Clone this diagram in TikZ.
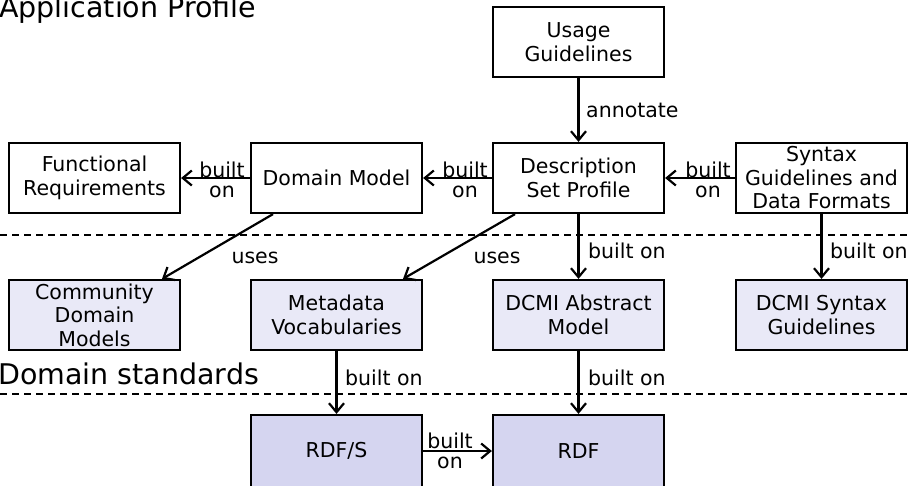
\documentclass[tikz,border=0pt]{standalone}
\usepackage{fontspec}
\setmainfont{DejaVu Sans}
\usetikzlibrary{arrows.meta}
\definecolor{midfill}{RGB}{233,233,247}
\definecolor{lowfill}{RGB}{213,213,240}
\begin{document}
\begin{tikzpicture}[x=1pt,y=-1pt,
  box/.style={draw=black, line width=2.2pt, minimum width=171pt, minimum height=70pt,
    align=center, inner sep=0pt, font=\fontsize{20.5}{23.5}\selectfont},
  midbox/.style={box, fill=midfill},
  lowbox/.style={box, fill=lowfill},
  arr/.style={line width=2.2pt, -{Straight Barb[length=9pt,width=15pt]}},
  lbl/.style={anchor=base, inner sep=0pt, font=\fontsize{20.5}{23.5}\selectfont},
  lblw/.style={anchor=base west, inner sep=0pt, font=\fontsize{20.5}{23.5}\selectfont},
  big/.style={anchor=base west, inner sep=0pt, font=\fontsize{28.5}{32}\selectfont},
  sep/.style={line width=2pt, dash pattern=on 7pt off 5pt}
]
\useasboundingbox (0,0) rectangle (910,485);

% separators
\draw[sep] (0,235) -- (910,235);
\draw[sep] (0,394) -- (910,394);
\node[big] (ap) at (-1,17) {Application Profile};
\node[big] (ds) at (-2,384) {Domain standards};

% top row
\node[box] (usage) at (578.5,42) {Usage\\Guidelines};
\node[box] (func) at (94.5,178) {Functional\\Requirements};
\node[box] (dm) at (336.5,178) {Domain Model};
\node[box] (dsp) at (578.5,178) {Description\\Set Profile};
\node[box] (syn) at (821.5,178) {Syntax\\Guidelines and\\Data Formats};

% middle row
\node[midbox] (comm) at (94.5,315) {Community\\Domain\\Models};
\node[midbox] (meta) at (336.5,315) {Metadata\\Vocabularies};
\node[midbox] (dcam) at (578.5,315) {DCMI Abstract\\Model};
\node[midbox] (dcsyn) at (821.5,315) {DCMI Syntax\\Guidelines};

% bottom row
\node[lowbox, minimum height=72pt] (rdfs) at (336.5,451) {RDF/S};
\node[lowbox, minimum height=72pt] (rdf) at (578.5,451) {RDF};

% connectors
\draw[arr] (usage) -- (dsp);
\node[lblw] (lann) at (586,117) {annotate};

\draw[arr] (dm) -- (func);
\node[lbl] (l1a) at (222,177) {built};
\node[lbl] (l1b) at (222,197) {on};

\draw[arr] (dsp) -- (dm);
\node[lbl] (l2a) at (465,177) {built};
\node[lbl] (l2b) at (465,197) {on};

\draw[arr] (syn) -- (dsp);
\node[lbl] (l3a) at (708,177) {built};
\node[lbl] (l3b) at (708,197) {on};

\draw[arr] (dm.south -| 273,0) -- (comm.north -| 162,0);
\node[lbl] (lu1) at (255,263) {uses};

\draw[arr] (dsp.south -| 515,0) -- (meta.north -| 403,0);
\node[lbl] (lu2) at (497,263) {uses};

\draw[arr] (dsp) -- (dcam);
\node[lblw] (l4) at (588,258) {built on};

\draw[arr] (syn) -- (dcsyn);
\node[lblw] (l5) at (830,258) {built on};

\draw[arr] (meta) -- (rdfs);
\node[lblw] (l6) at (345,385) {built on};

\draw[arr] (dcam) -- (rdf);
\node[lblw] (l7) at (588,385) {built on};

\draw[arr] (rdfs) -- (rdf);
\node[lbl] (l8a) at (450,448) {built};
\node[lbl] (l8b) at (450,468) {on};
\end{tikzpicture}
\end{document}
